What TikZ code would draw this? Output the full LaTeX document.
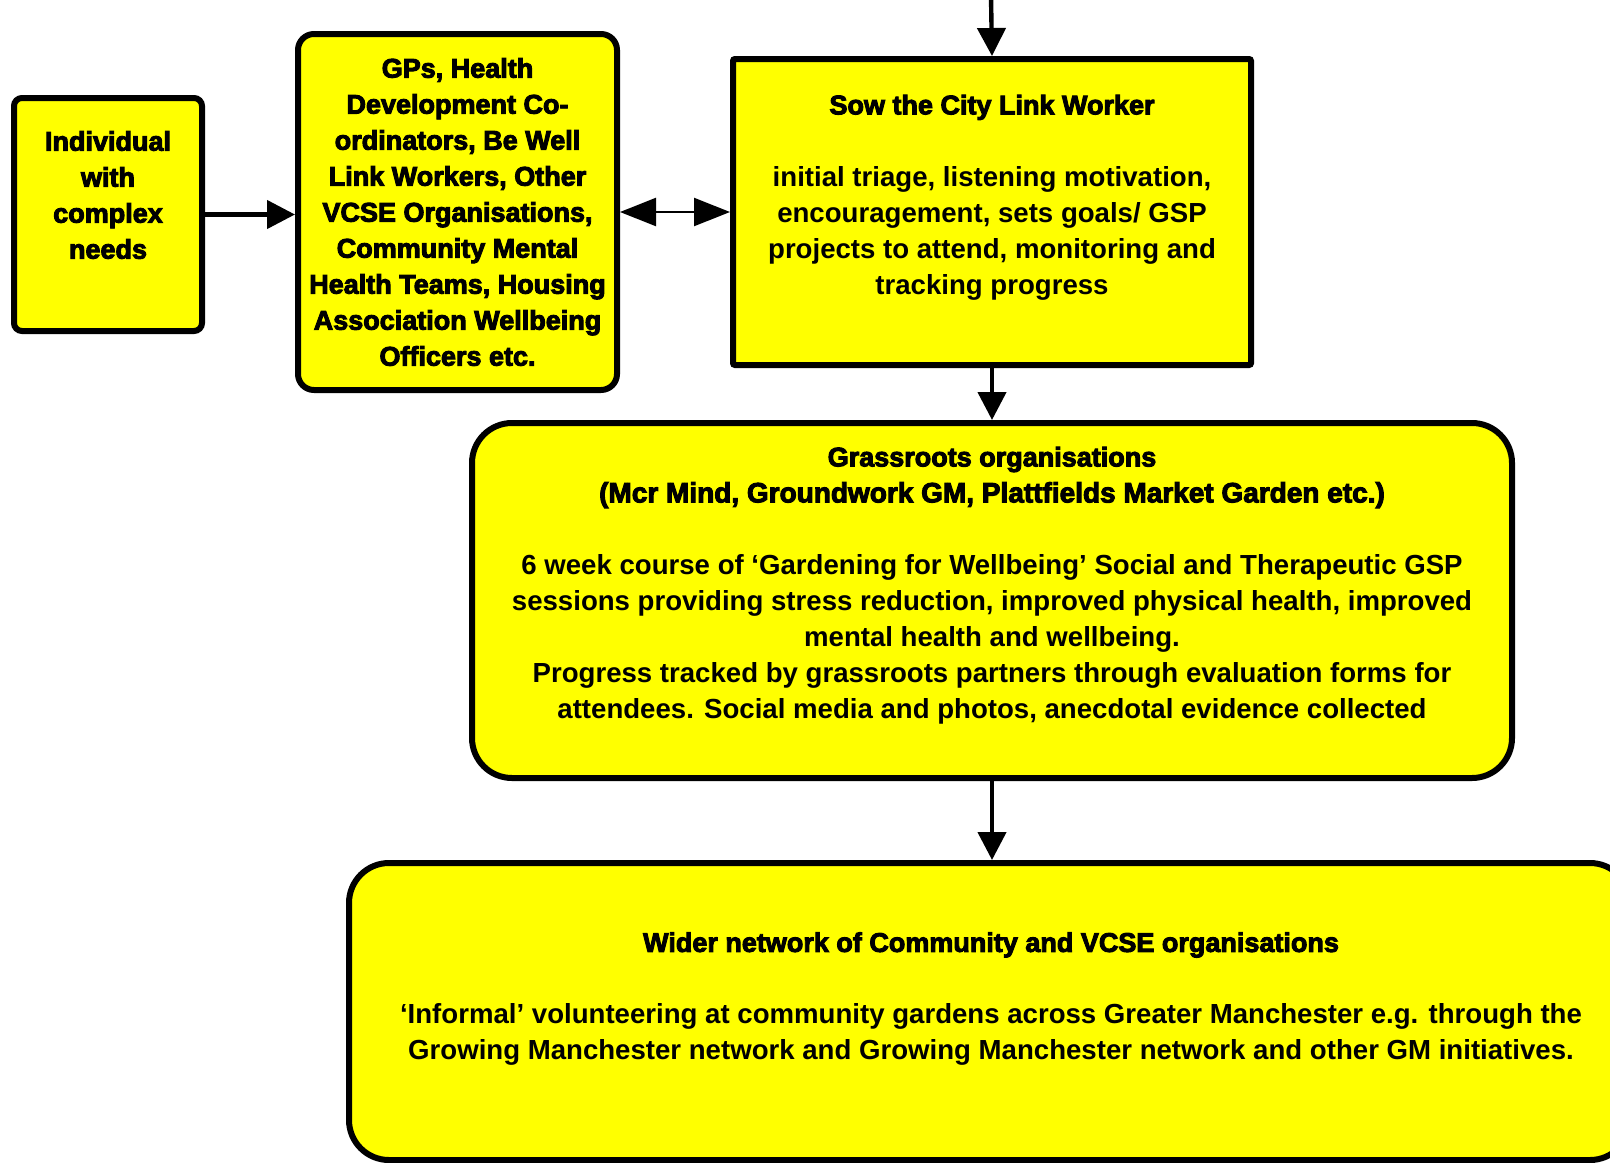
\documentclass[tikz,border=0pt]{standalone}
\usepackage{fontspec}
\setmainfont{Liberation Sans}
\newfontfamily\heavyfont{Liberation Sans}[UprightFont=* Bold, FakeBold=3.5]
\usetikzlibrary{arrows.meta,positioning}

\definecolor{boxyellow}{RGB}{255,255,0}

% heading lines in the heavy face
\newcommand\hd[1]{{\heavyfont\fontsize{13.5}{18}\selectfont #1}}

\tikzset{
  box/.style={draw, fill=boxyellow, line width=3pt, inner sep=0pt},
  txt/.style={align=center, inner sep=0pt, font=\bfseries\fontsize{13.8}{18}\selectfont},
  flow/.style={line width=2.2pt, -{Triangle[length=14pt,width=14pt]}},
  both/.style={line width=1.2pt, {Triangle[length=18pt,width=14pt]}-{Triangle[length=18pt,width=14pt]}}
}

\begin{document}
\begin{tikzpicture}[x=0.5pt,y=-0.5pt]
  \useasboundingbox (0,0) rectangle (1610,1162);
  \clip (0,0) rectangle (1610,1162);

  % the five boxes
  \node[box, rounded corners=4pt, minimum width=94pt, minimum height=116.5pt] (indiv) at (108,214.5) {};
  \node[box, rounded corners=8pt, minimum width=159.5pt, minimum height=178pt] (gps) at (457.5,212) {};
  \node[box, rounded corners=1pt, minimum width=259pt, minimum height=153pt] (link) at (992,212) {};
  \node[box, rounded corners=20pt, minimum width=520pt, minimum height=177.5pt] (grass) at (992,600.5) {};
  \node[box, rounded corners=20pt, minimum width=640.5pt, minimum height=148.5pt] (wider) at (989.5,1011.5) {};

  % texts
  \node[txt] (indivtext) at (108,195) {\hd{Individual}\\\hd{with}\\\hd{complex}\\\hd{needs}};
  \node[txt] (gpstext) at (457.5,212) {\hd{GPs, Health}\\\hd{Development Co-}\\\hd{ordinators, Be Well}\\
    \hd{Link Workers, Other}\\\hd{VCSE Organisations,}\\\hd{Community Mental}\\
    \hd{Health Teams, Housing}\\\hd{Association Wellbeing}\\\hd{Officers etc.}};
  \node[txt] (linktext) at (992,197.5) {\hd{Sow the City Link Worker}\\[18pt]
    initial triage, listening motivation,\\encouragement, sets goals/ GSP\\
    projects to attend, monitoring and\\tracking progress};
  \node[txt] (grasstext) at (992,585.5) {\hd{Grassroots organisations}\\
    {\heavyfont\fontsize{14}{18}\selectfont (Mcr Mind, Groundwork GM, Plattfields Market Garden etc.)}\\[18pt]
    6 week course of ‘Gardening for Wellbeing’ Social and Therapeutic GSP\\
    sessions providing stress reduction, improved physical health, improved\\
    mental health and wellbeing.\\
    Progress tracked by grassroots partners through evaluation forms for\\
    attendees. Social media and photos, anecdotal evidence collected};
  \node[txt] (widertext) at (991,999) {\hd{Wider network of Community and VCSE organisations}\\[18pt]
    ‘Informal’ volunteering at community gardens across Greater Manchester e.g. through the\\
    Growing Manchester network and Growing Manchester network and other GM initiatives.};

  % connectors
  \coordinate (entry) at (991,-4);
  \draw[flow] (entry) -- (link.north);
  \draw[flow] (indiv.east) -- (indiv.east -| gps.west);
  \draw[both] (gps.east) -- (link.west);
  \draw[flow] (link.south) -- (grass.north);
  \draw[flow] (grass.south) -- (grass.south |- wider.north);
\end{tikzpicture}
\end{document}
